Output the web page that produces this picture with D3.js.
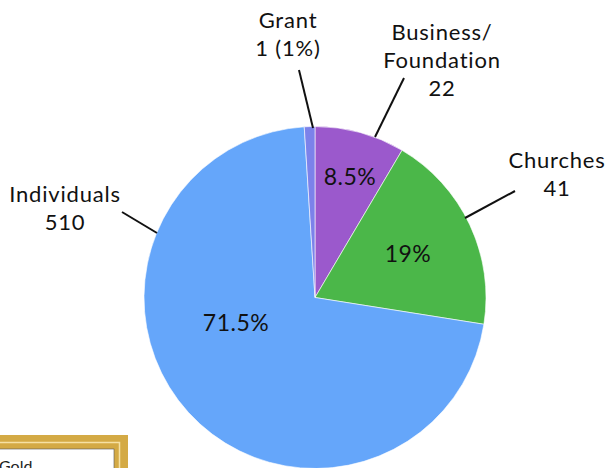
<!DOCTYPE html>
<html>
<head>
<meta charset="utf-8">
<script src="https://cdn.jsdelivr.net/npm/d3@7"></script>
<style>
  body { margin: 0; background: #fff; }
  svg { display: block; font-family: Lato, "Open Sans", sans-serif; }
</style>
</head>
<body>
<div id="chart"></div>
<script>
(function(){

  // data (clockwise from 12 o'clock)
  var categories = ["Business/Foundation", "Churches", "Individuals", "Grant"]
  var counts = [22, 41, 510, 1]
  var shares = [8.5, 19, 71.5, 1]
  var shareLabels = ["8.5%", "19%", "71.5%", ""]
  var colors = ["#9b59cc", "#4bb749", "#65a6fa", "#7c82ea"]

  var width = 610, height = 468
  var cx = 315, cy = 297.5, radius = 171

  var svg = d3.select("#chart").append("svg")
        .attr("width", width)
        .attr("height", height)

  // gold frame peeking in at the bottom left
  var frame = svg.append("g")
  frame.append("rect").attr("x", -20).attr("y", 435).attr("width", 148).attr("height", 60).attr("fill", "#d4aa45")
  frame.append("rect").attr("x", -20).attr("y", 442.5).attr("width", 139.5).attr("height", 60)
    .attr("fill", "none").attr("stroke", "#f6e1a4").attr("stroke-width", 1.5)
  frame.append("rect").attr("x", -20).attr("y", 449).attr("width", 134).attr("height", 60)
    .attr("fill", "#fff").attr("stroke", "#555").attr("stroke-width", 0.6)
  frame.append("text").attr("x", -1).attr("y", 472).attr("font-size", 16).attr("fill", "#222").text("Gold")

  var pie = d3.pie().sort(null).value(function(d){ return d.share })
  var arc = d3.arc().innerRadius(0).outerRadius(radius)

  var data = categories.map(function(c, i){
    return { name: c, count: counts[i], share: shares[i], label: shareLabels[i], color: colors[i] }
  })
  var arcs = pie(data)

  var g = svg.append("g").attr("transform", "translate(" + cx + "," + cy + ")")

  g.selectAll("path")
    .data(arcs)
    .enter().append("path")
    .attr("d", arc)
    .attr("fill", function(d){ return d.data.color })
    .attr("stroke", "#fff")
    .attr("stroke-width", 0.6)

  // percentage labels inside the slices (offsets from the centre)
  var inner = [[35, -121], [93, -44], [-79, 25], [0, 0]]
  g.selectAll(".pct")
    .data(arcs)
    .enter().append("text")
    .attr("class", "pct")
    .attr("x", function(d, i){ return inner[i][0] })
    .attr("y", function(d, i){ return inner[i][1] })
    .attr("dy", "0.35em")
    .attr("text-anchor", "middle")
    .attr("font-size", 23)
    .attr("letter-spacing", 0.5)
    .attr("fill", "#111")
    .text(function(d){ return d.data.label })

  // outside labels with leader lines
  var outside = [
    { lines: ["Business/", "Foundation", "22"], x: 442, y: 40, from: [404, 78], to: [375, 137] },
    { lines: ["Churches", "41"], x: 557, y: 168, from: [515, 191], to: [465, 218] },
    { lines: ["Individuals", "510"], x: 65, y: 202, from: [122, 212], to: [157, 233] },
    { lines: ["Grant", "1 (1%)"], x: 288, y: 28, from: [299, 70], to: [313, 128] }
  ]

  outside.forEach(function(o, i){
    o.lines[o.lines.length - 1] = i == 3 ? counts[i] + " (" + shares[i] + "%)" : String(counts[i])
    svg.append("line")
      .attr("x1", o.from[0]).attr("y1", o.from[1])
      .attr("x2", o.to[0]).attr("y2", o.to[1])
      .attr("stroke", "#111").attr("stroke-width", 2)
    var t = svg.append("text")
      .attr("text-anchor", "middle")
      .attr("font-size", 22)
      .attr("letter-spacing", 0.8)
      .attr("fill", "#111")
    o.lines.forEach(function(s, k){
      t.append("tspan").attr("x", o.x).attr("y", o.y + k * 28).text(s)
    })
  })

})()
</script>
</body>
</html>
